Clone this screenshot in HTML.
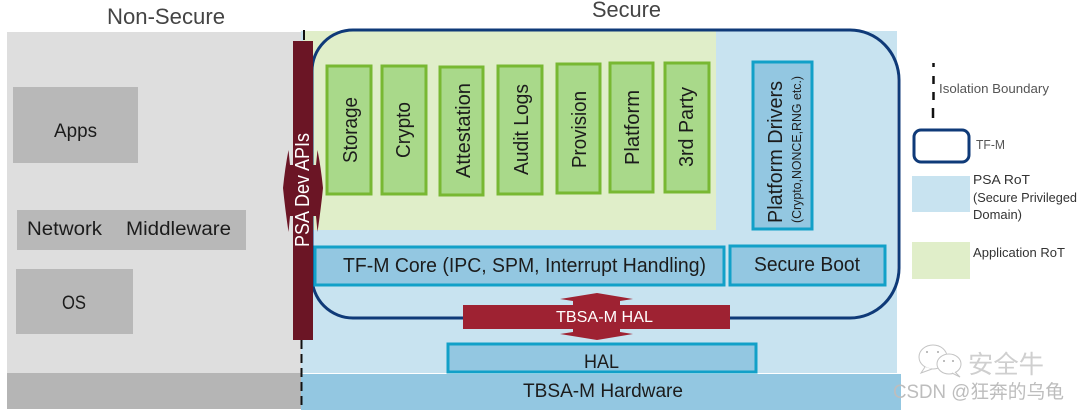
<!DOCTYPE html>
<html><head><meta charset="utf-8">
<style>
html,body{margin:0;padding:0;background:#fff;width:1080px;height:410px;overflow:hidden}
svg{display:block}
text{font-family:"Liberation Sans","Noto Sans CJK SC",sans-serif;fill:#1c1c1c}
</style></head>
<body>
<svg xmlns="http://www.w3.org/2000/svg" width="1080" height="410" viewBox="0 0 1080 410">
<!-- backgrounds -->
<rect x="7" y="32" width="294" height="341" fill="#dedede"/>
<rect x="7" y="373" width="294" height="36" fill="#b5b5b5"/>
<rect x="301" y="31" width="596" height="342" fill="#c8e3f0"/>
<rect x="301" y="374" width="600" height="36" fill="#93c7e1"/>
<rect x="303" y="31" width="413" height="199" fill="#e0eec9"/>

<!-- non secure -->
<rect x="13" y="87" width="125" height="76" fill="#b8b8b8"/>
<rect x="17" y="210" width="229" height="40" fill="#b8b8b8"/>
<rect x="16" y="269" width="117" height="65" fill="#b8b8b8"/>
<text x="107" y="24" font-size="22" style="fill:#444" textLength="118" lengthAdjust="spacingAndGlyphs">Non-Secure</text>
<text x="592" y="17" font-size="22" style="fill:#444" textLength="69" lengthAdjust="spacingAndGlyphs">Secure</text>
<text x="54" y="137" font-size="19" textLength="43" lengthAdjust="spacingAndGlyphs">Apps</text>
<text x="27" y="235" font-size="19" textLength="75" lengthAdjust="spacingAndGlyphs">Network</text>
<text x="126" y="235" font-size="19" textLength="105" lengthAdjust="spacingAndGlyphs">Middleware</text>
<text x="62" y="309" font-size="19" textLength="24" lengthAdjust="spacingAndGlyphs">OS</text>

<!-- TF-M outline -->
<path d="M353 30 H850 A49 50 0 0 1 899 80 V268 A49 50 0 0 1 850 318 H353 A41 41 0 0 1 312 277 V71 A41 41 0 0 1 353 30Z" fill="none" stroke="#0f3a78" stroke-width="3"/>

<!-- isolation dashes -->
<line x1="304" y1="30" x2="304" y2="40" stroke="#111" stroke-width="2"/>
<line x1="301.5" y1="340" x2="301.5" y2="410" stroke="#111" stroke-width="2" stroke-dasharray="9 5"/>

<!-- green partitions -->
<g fill="#a9d98a" stroke="#78b832" stroke-width="3">
<rect x="327" y="66" width="44" height="128"/>
<rect x="382" y="66" width="44" height="128"/>
<rect x="440" y="67" width="43" height="128"/>
<rect x="498" y="66" width="44" height="128"/>
<rect x="557" y="64" width="43" height="129"/>
<rect x="610" y="63" width="43" height="129"/>
<rect x="665" y="63" width="44" height="129"/>
</g>
<text transform="translate(357,163) rotate(-90)" font-size="20" textLength="66" lengthAdjust="spacingAndGlyphs">Storage</text>
<text transform="translate(410,158) rotate(-90)" font-size="20" textLength="56" lengthAdjust="spacingAndGlyphs">Crypto</text>
<text transform="translate(470,178) rotate(-90)" font-size="20" textLength="95" lengthAdjust="spacingAndGlyphs">Attestation</text>
<text transform="translate(528,175) rotate(-90)" font-size="20" textLength="91" lengthAdjust="spacingAndGlyphs">Audit Logs</text>
<text transform="translate(586,168) rotate(-90)" font-size="20" textLength="77" lengthAdjust="spacingAndGlyphs">Provision</text>
<text transform="translate(639,165) rotate(-90)" font-size="20" textLength="75" lengthAdjust="spacingAndGlyphs">Platform</text>
<text transform="translate(693,167) rotate(-90)" font-size="20" textLength="80" lengthAdjust="spacingAndGlyphs">3rd Party</text>

<!-- blue boxes -->
<g fill="#93c7e1" stroke="#12a0c8" stroke-width="3">
<rect x="753" y="62" width="59" height="167"/>
<rect x="315" y="247" width="409" height="38"/>
<rect x="730" y="246" width="155" height="39"/>
<rect x="448" y="344" width="308" height="28"/>
</g>
<text transform="translate(782,223) rotate(-90)" font-size="20" textLength="142" lengthAdjust="spacingAndGlyphs">Platform Drivers</text>
<text transform="translate(801,223) rotate(-90)" font-size="13" textLength="147" lengthAdjust="spacingAndGlyphs">(Crypto,NONCE,RNG etc.)</text>
<text x="343" y="272" font-size="20" textLength="363" lengthAdjust="spacingAndGlyphs">TF-M Core (IPC, SPM, Interrupt Handling)</text>
<text x="754" y="271" font-size="20" textLength="106" lengthAdjust="spacingAndGlyphs">Secure Boot</text>
<text x="584" y="368" font-size="19" textLength="35" lengthAdjust="spacingAndGlyphs">HAL</text>
<text x="523" y="397" font-size="19" textLength="160" lengthAdjust="spacingAndGlyphs">TBSA-M Hardware</text>

<!-- PSA Dev APIs -->
<rect x="293" y="41" width="20" height="299" fill="#6b1525"/>
<path d="M283 188 Q285 168 288.5 150 L290 165 H316 L317.5 150 Q321 168 323 188 Q321 208 317.5 232 L316 216 H290 L288.5 232 Q285 208 283 188Z" fill="#6b1525"/>
<text transform="translate(309,247) rotate(-90)" font-size="20" style="fill:#fff" textLength="114" lengthAdjust="spacingAndGlyphs">PSA Dev APIs</text>

<!-- TBSA-M HAL -->
<path d="M597 293 L633 299 L620 301 V305 H730 V329 H620 V332 L633 334 L597 340 L560 334 L573 332 V329 H463 V305 H573 V301 L560 299Z" fill="#9e2232"/>
<text x="556" y="322" font-size="16" style="fill:#fff" textLength="97" lengthAdjust="spacingAndGlyphs">TBSA-M HAL</text>

<!-- legend -->
<g stroke="#111" stroke-width="2.5">
<line x1="933.5" y1="63" x2="933.5" y2="67"/>
<line x1="933.5" y1="76" x2="933.5" y2="84"/>
<line x1="933.5" y1="92" x2="933.5" y2="100"/>
<line x1="933" y1="108" x2="933" y2="118"/>
</g>
<text x="939" y="93" font-size="13" style="fill:#555" textLength="110" lengthAdjust="spacingAndGlyphs">Isolation Boundary</text>
<rect x="914" y="130" width="55" height="32" rx="7" fill="#fff" stroke="#0f3a78" stroke-width="3"/>
<text x="976" y="149" font-size="13" style="fill:#555" textLength="29" lengthAdjust="spacingAndGlyphs">TF-M</text>
<rect x="912" y="176" width="58" height="36" fill="#c8e3f0"/>
<text x="973" y="184" font-size="13" style="fill:#333" textLength="57" lengthAdjust="spacingAndGlyphs">PSA RoT</text>
<text x="973" y="202" font-size="13" style="fill:#333" textLength="104" lengthAdjust="spacingAndGlyphs">(Secure Privileged</text>
<text x="973" y="219" font-size="13" style="fill:#333" textLength="49" lengthAdjust="spacingAndGlyphs">Domain)</text>
<rect x="912" y="242" width="58" height="37" fill="#e0eec9"/>
<text x="973" y="257" font-size="13" style="fill:#333" textLength="92" lengthAdjust="spacingAndGlyphs">Application RoT</text>

<!-- watermark -->
<g fill="#fff" stroke="#c4c4c4" stroke-width="1">
<ellipse cx="933" cy="357" rx="14" ry="12"/>
<path d="M925 367 L921 373 L932 369"/>
<ellipse cx="949" cy="364" rx="12" ry="10"/>
<path d="M955 372 L960 377 L952 373"/>
</g>
<g fill="#aaa"><circle cx="927" cy="352" r="1"/><circle cx="938" cy="352" r="1"/><circle cx="944" cy="361" r="1"/><circle cx="953" cy="361" r="1"/></g>
<text x="968" y="373" font-size="25" style="fill:#cfcfcf" textLength="76" lengthAdjust="spacingAndGlyphs">安全牛</text>
<text x="893" y="398" font-size="19" style="fill:#bdbdbd" textLength="171" lengthAdjust="spacingAndGlyphs">CSDN @狂奔的乌龟</text>
</svg>
</body></html>
